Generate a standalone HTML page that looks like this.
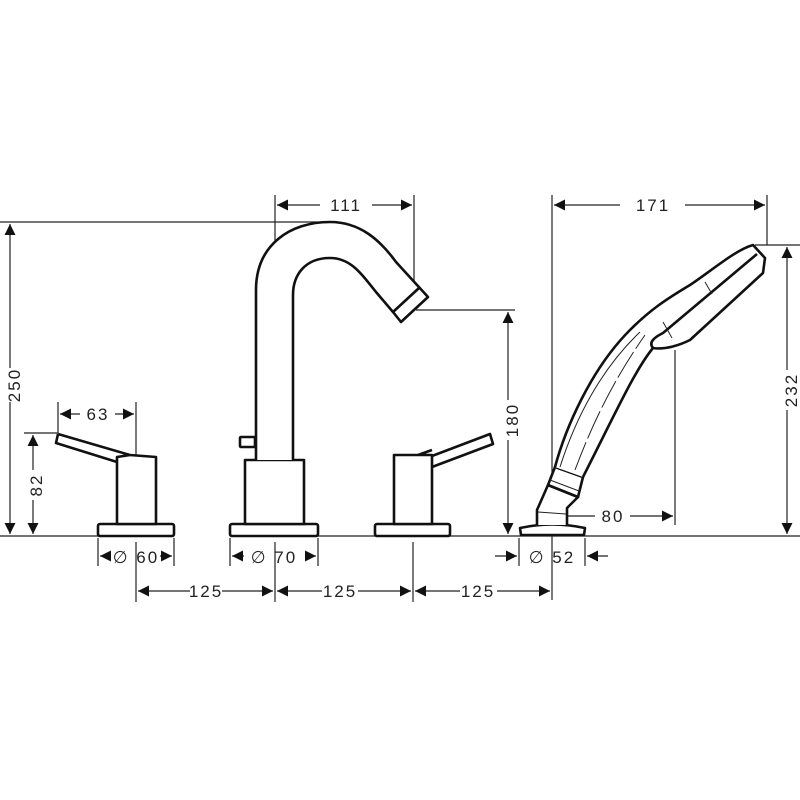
<!DOCTYPE html>
<html><head><style>html,body{margin:0;padding:0;background:#fff}svg{display:block}
text{font-family:"Liberation Sans",sans-serif;font-size:17px;fill:#222;letter-spacing:2px}</style></head>
<body>
<svg width="800" height="800" viewBox="0 0 800 800" xmlns="http://www.w3.org/2000/svg">
<defs>
<marker id="a" viewBox="0 0 10 10" refX="10" refY="5" markerWidth="11" markerHeight="11" markerUnits="userSpaceOnUse" orient="auto-start-reverse"><path d="M0,0L10,5L0,10z" fill="#111"/></marker>
</defs>
<g stroke="#222" stroke-width="1.2" fill="none">
<!-- extension lines -->
<line x1="0" y1="222" x2="328" y2="222"/>
<line x1="0" y1="536" x2="100" y2="536"/>
<line x1="318" y1="536" x2="375" y2="536"/>
<line x1="450" y1="536" x2="800" y2="536"/>
<line x1="24" y1="433" x2="58" y2="433"/>
<line x1="58" y1="402" x2="58" y2="433"/>
<line x1="136" y1="402" x2="136" y2="456"/>
<line x1="275" y1="195" x2="275" y2="245"/>
<line x1="414" y1="195" x2="414" y2="300"/>
<line x1="416" y1="310" x2="515" y2="310"/>
<line x1="552" y1="195" x2="552" y2="600"/>
<line x1="767" y1="195" x2="767" y2="245"/>
<line x1="755" y1="245" x2="800" y2="245"/>
<line x1="675" y1="350" x2="675" y2="525"/>
<line x1="98" y1="538" x2="98" y2="566"/><line x1="174" y1="538" x2="174" y2="566"/>
<line x1="230" y1="538" x2="230" y2="566"/><line x1="318" y1="538" x2="318" y2="566"/>
<line x1="519" y1="538" x2="519" y2="566"/><line x1="585" y1="538" x2="585" y2="566"/>
<line x1="136" y1="542" x2="136" y2="602"/><line x1="275" y1="542" x2="275" y2="602"/>
<line x1="413" y1="542" x2="413" y2="602"/>
<!-- dims -->
<line x1="10" y1="224" x2="10" y2="368" marker-start="url(#a)"/><line x1="10" y1="402" x2="10" y2="534" marker-end="url(#a)"/>
<line x1="33" y1="435" x2="33" y2="470" marker-start="url(#a)"/><line x1="33" y1="500" x2="33" y2="534" marker-end="url(#a)"/>
<line x1="60" y1="414" x2="80" y2="414" marker-start="url(#a)"/><line x1="115" y1="414" x2="134" y2="414" marker-end="url(#a)"/>
<line x1="277" y1="205" x2="320" y2="205" marker-start="url(#a)"/><line x1="372" y1="205" x2="412" y2="205" marker-end="url(#a)"/>
<line x1="508" y1="312" x2="508" y2="400" marker-start="url(#a)"/><line x1="508" y1="440" x2="508" y2="534" marker-end="url(#a)"/>
<line x1="554" y1="205" x2="620" y2="205" marker-start="url(#a)"/><line x1="685" y1="205" x2="765" y2="205" marker-end="url(#a)"/>
<line x1="787" y1="247" x2="787" y2="370" marker-start="url(#a)"/><line x1="787" y1="410" x2="787" y2="534" marker-end="url(#a)"/>
<line x1="554" y1="516" x2="595" y2="516" marker-start="url(#a)"/><line x1="630" y1="516" x2="673" y2="516" marker-end="url(#a)"/>
<line x1="100" y1="556" x2="110" y2="556" marker-start="url(#a)"/><line x1="160" y1="556" x2="172" y2="556" marker-end="url(#a)"/>
<line x1="232" y1="556" x2="244" y2="556" marker-start="url(#a)"/><line x1="305" y1="556" x2="316" y2="556" marker-end="url(#a)"/>
<line x1="495" y1="556" x2="517" y2="556" marker-end="url(#a)"/><line x1="608" y1="556" x2="587" y2="556" marker-end="url(#a)"/>
<line x1="138" y1="591" x2="190" y2="591" marker-start="url(#a)"/><line x1="222" y1="591" x2="273" y2="591" marker-end="url(#a)"/>
<line x1="277" y1="591" x2="322" y2="591" marker-start="url(#a)"/><line x1="358" y1="591" x2="411" y2="591" marker-end="url(#a)"/>
<line x1="415" y1="591" x2="460" y2="591" marker-start="url(#a)"/><line x1="497" y1="591" x2="550" y2="591" marker-end="url(#a)"/>
</g>
<g stroke="#111" stroke-width="2.6" fill="#fff" stroke-linejoin="round">
<!-- left handle -->
<rect x="98" y="524" width="76" height="12" rx="2"/>
<path d="M58,434 L130,455 L117,457 L117,524 L156,524 L156,457 L130,455 M58,434 L56,443 L117,462"/>
<!-- spout -->
<rect x="230" y="524" width="88" height="12" rx="2"/>
<rect x="245" y="460" width="59" height="64"/>
<rect x="240" y="437" width="15" height="10" rx="1"/>
<path d="M256,460 L256,290 C256,245 290,222 330,222 C360,222 380,240 396,262 L428,297 L401,322 L393,312 L376,292 C360,272 350,258 330,258 C305,258 293,275 293,295 L293,460" />
<path d="M393,312 L419,288" fill="none"/>
<!-- right handle -->
<rect x="375" y="524" width="75" height="12" rx="2"/>
<path d="M432,456 L490,434 L493,444 L432,467 M394,455 L394,524 L432,524 L432,455 Z M418,455 L432,450"/>
<!-- shower -->
<path d="M520,528 Q552,521 585,528 L584,535 L521,535 Z"/>
<path d="M537,525 L537,510 L548,485 L578,497 L567,508 L567,525" />
<path d="M548,485 L555,467 L583,477 L578,497 Z"/>
<path d="M555,467 C565,430 590,370 630,330 C650,310 665,300 690,285 C710,272 735,250 753,245 L765,258 L763,273 L690,340 C680,345 665,350 653,348 C635,370 617,410 583,477"/>
<path d="M653,348 C648,342 655,337 663,333 L757,254" fill="none"/>
</g>
<g stroke="#222" stroke-width="1" fill="none">
<path d="M560,467 C575,420 600,370 640,332"/><path d="M575,470 C590,430 610,385 645,335" stroke-dasharray="30 4"/>
<line x1="663" y1="322" x2="672" y2="338"/><line x1="705" y1="282" x2="712" y2="294"/>
<line x1="550" y1="480" x2="579" y2="491"/><line x1="538" y1="512" x2="566" y2="514"/>
</g>
<g>
<text x="0" y="0" transform="translate(20,385) rotate(-90)" text-anchor="middle">250</text>
<text x="0" y="0" transform="translate(42,485) rotate(-90)" text-anchor="middle">82</text>
<text x="0" y="0" transform="translate(518,420) rotate(-90)" text-anchor="middle">180</text>
<text x="0" y="0" transform="translate(797,390) rotate(-90)" text-anchor="middle">232</text>
<text x="98" y="420" text-anchor="middle">63</text>
<text x="346" y="211" text-anchor="middle">111</text>
<text x="653" y="211" text-anchor="middle">171</text>
<text x="613" y="522" text-anchor="middle">80</text>
<text x="136" y="563" text-anchor="middle">∅ 60</text>
<text x="274" y="563" text-anchor="middle">∅ 70</text>
<text x="552" y="563" text-anchor="middle">∅ 52</text>
<text x="206" y="597" text-anchor="middle">125</text>
<text x="340" y="597" text-anchor="middle">125</text>
<text x="478" y="597" text-anchor="middle">125</text>
</g>
</svg>
</body></html>
